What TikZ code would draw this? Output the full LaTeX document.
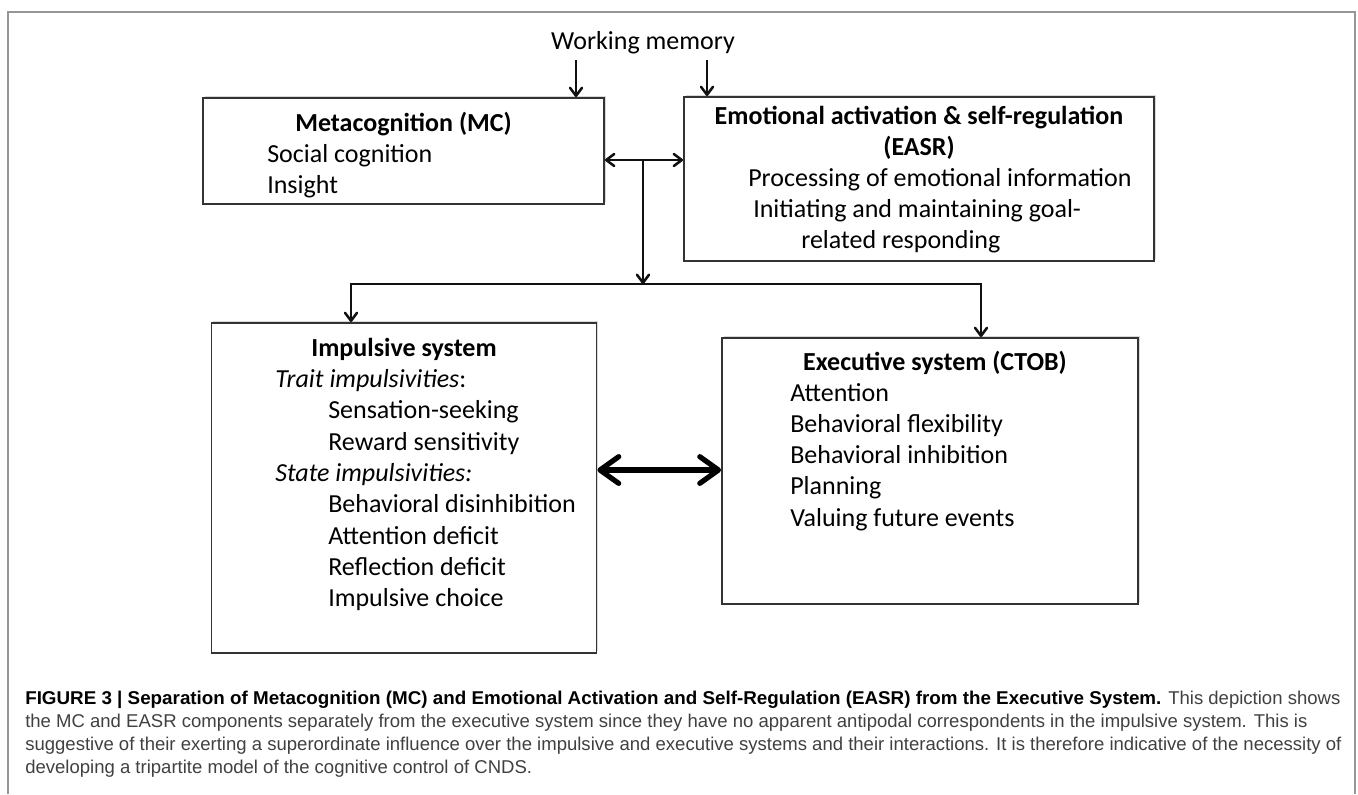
\documentclass[tikz,border=0pt]{standalone}
\usepackage{fontspec}
\usepackage{tikz}
\usetikzlibrary{arrows.meta}
\usetikzlibrary{shadows}
\setmainfont{Carlito}
\newfontfamily\capfont{Liberation Sans}[BoldFeatures={FakeStretch=1.015}]

\begin{document}
\begin{tikzpicture}[x=0.75pt,y=0.75pt,yscale=-1,
    >={Straight Barb[round,length=6pt,width=9pt]},
    box/.style={draw={rgb, 255:red, 51; green, 51; blue, 51}, line width=1.4pt, fill=white, inner sep=0pt,
        drop shadow={shadow xshift=1.2pt, shadow yshift=1.2pt, opacity=0.25, fill=black!60}},
    conn/.style={draw={rgb, 255:red, 17; green, 17; blue, 17}, line width=1.9pt},
    bigarrow/.style={line width=3.9pt, {Straight Barb[round,length=14pt,width=20pt]}-{Straight Barb[round,length=14pt,width=20pt]}},
    txt/.style={inner sep=0pt, font=\fontsize{19.5}{23.4}\selectfont},
    captxt/.style={inner sep=0pt, anchor=base west, font=\capfont\fontsize{13.9}{16.5}\selectfont}]
                        \useasboundingbox (0,0) rectangle (1358,794);

                        %Shape: Frame
                        \draw [draw={rgb, 255:red, 150; green, 150; blue, 150}, line width=0.8pt] (8,794) -- (8,12) -- (1355,12) -- (1355,794);

                        %Shape: Rectangle [MC]
                        \node [box, minimum width=300.75pt, minimum height=79.5pt] (mc) at (403.5,151) {};
                        %Shape: Rectangle [EASR]
                        \node [box, minimum width=352.5pt, minimum height=123pt] (easr) at (919,179) {};
                        %Shape: Rectangle [impulsive]
                        \node [box, minimum width=288.75pt, minimum height=247.5pt] (imp) at (404,488) {};
                        %Shape: Rectangle [executive]
                        \node [box, minimum width=312pt, minimum height=199.5pt] (exec) at (930,471) {};

                        % Text Node
                        \draw (643,49) node [txt, anchor=base] (wm) {Working memory};

                        % Text Node
                        \draw (403.5,131) node [txt, anchor=base] (mct) {\bfseries Metacognition (MC)};
                        \draw (267,162) node [txt, anchor=base west] (mc1) {Social cognition};
                        \draw (267,193) node [txt, anchor=base west] (mc2) {Insight};

                        % Text Node
                        \draw (919,124) node [txt, anchor=base] (et1) {\bfseries Emotional activation \& self-regulation};
                        \draw (919,155) node [txt, anchor=base] (et2) {\bfseries (EASR)};
                        \draw (748,186) node [txt, anchor=base west] (e1) {Processing of emotional information};
                        \draw (753,217) node [txt, anchor=base west] (e2) {Initiating and maintaining goal-};
                        \draw (801,248) node [txt, anchor=base west] (e3) {related responding};

                        % Text Node
                        \draw (404,356) node [txt, anchor=base] (it) {\bfseries Impulsive system};
                        \draw (275,387) node [txt, anchor=base west] (i1) {\textit{Trait impulsivities}:};
                        \draw (328,418) node [txt, anchor=base west] (i2) {Sensation-seeking};
                        \draw (328,450) node [txt, anchor=base west] (i3) {Reward sensitivity};
                        \draw (275,481) node [txt, anchor=base west] (i4) {\textit{State impulsivities:}};
                        \draw (328,512) node [txt, anchor=base west] (i5) {Behavioral disinhibition};
                        \draw (328,544) node [txt, anchor=base west] (i6) {Attention deficit};
                        \draw (328,575) node [txt, anchor=base west] (i7) {Reflection deficit};
                        \draw (328,606) node [txt, anchor=base west] (i8) {Impulsive choice};

                        % Text Node
                        \draw (935,370) node [txt, anchor=base] (xt) {\bfseries Executive system (CTOB)};
                        \draw (790,401) node [txt, anchor=base west] (x1) {Attention};
                        \draw (790,432) node [txt, anchor=base west] (x2) {Behavioral flexibility};
                        \draw (790,463) node [txt, anchor=base west] (x3) {Behavioral inhibition};
                        \draw (790,494) node [txt, anchor=base west] (x4) {Planning};
                        \draw (790,526) node [txt, anchor=base west] (x5) {Valuing future events};

                        %Connectors
                        \coordinate (wmA) at (576,60);
                        \coordinate (wmB) at (707,60);
                        \coordinate (hub) at (643,160);
                        \coordinate (split) at (643,284);
                        \coordinate (bl) at (351,284);
                        \coordinate (br) at (981,284);
                        \coordinate (mid) at (659,470);
                        \draw [conn,->] (wmA) -- (wmA |- mc.north);
                        \draw [conn,->] (wmB) -- (wmB |- easr.north);
                        \draw [conn,<->] (hub -| mc.east) -- (hub -| easr.west);
                        \draw [conn,->] (hub) -- (split);
                        \draw [conn,<->] (bl |- imp.north) -- (bl) -- (br) -- (br |- exec.north);
                        \draw [bigarrow] (mid -| imp.east) -- (mid -| exec.west);

                        % Text Node: caption
                        \draw (25,704) node [captxt] (cap1) {\textbf{FIGURE 3 | Separation of Metacognition (MC) and Emotional Activation and Self-Regulation (EASR) from the Executive System.} {\color[RGB]{64,64,64}This depiction shows}};
                        \draw (25,727) node [captxt, text={rgb, 255:red, 64; green, 64; blue, 64}] (cap2) {the MC and EASR components separately from the executive system since they have no apparent antipodal correspondents in the impulsive system. This is};
                        \draw (25,750) node [captxt, text={rgb, 255:red, 64; green, 64; blue, 64}] (cap3) {suggestive of their exerting a superordinate influence over the impulsive and executive systems and their interactions. It is therefore indicative of the necessity of};
                        \draw (25,773) node [captxt, text={rgb, 255:red, 64; green, 64; blue, 64}] (cap4) {developing a tripartite model of the cognitive control of CNDS.};
                    \end{tikzpicture}
\end{document}
